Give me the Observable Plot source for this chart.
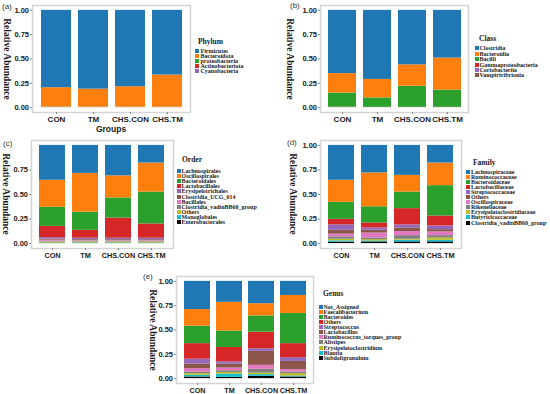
<!DOCTYPE html>
<html><head><meta charset="utf-8">
<script src="https://cdn.jsdelivr.net/npm/d3@7"></script>
<script src="https://cdn.jsdelivr.net/npm/@observablehq/plot@0.6"></script>
<style>
body{margin:0;background:#fff;}
#root{position:relative;width:550px;height:394px;overflow:hidden;background:#fff;}
.abs{position:absolute;white-space:nowrap;line-height:1;}
.ytitle{font:bold 9.5px "Liberation Serif","Times New Roman",serif;color:#1a1a1a;transform:translate(-50%,-50%) rotate(90deg);}
.tag{font:8px "Liberation Sans",Arial,sans-serif;color:#333;transform:translateY(-50%);}
.ltitle{font:bold 7.5px "Liberation Serif","Times New Roman",serif;color:#1a1a1a;transform:translateY(-50%);}
.litem{font:bold 6px "Liberation Serif","Times New Roman",serif;color:#1a1a1a;transform:translateY(-50%);}
.key{position:absolute;width:4px;height:4px;transform:translateY(-50%);}
.xtitle{font:bold 8.5px "Liberation Sans",Arial,sans-serif;color:#1a1a1a;transform:translate(-50%,-50%);}
</style>
</head><body><div id="root"></div>
<script>
const groups = ["CON", "TM", "CHS.CON", "CHS.TM"];
const palette = ["#1f77b4","#ff7f0e","#2ca02c","#d62728","#9467bd","#8c564b","#e377c2","#7f7f7f","#bcbd22","#17becf","#000000"];

// (a) Phylum — values per taxon for [CON, TM, CHS.CON, CHS.TM]
const phylum = ["Firmicutes","Bacteroidota","proteobacteria","Actinobacteriota","Cyanobacteria"];
const phylumValues = [
  [0.795, 0.810, 0.785, 0.665],
  [0.198, 0.185, 0.210, 0.330],
  [0.004, 0.003, 0.003, 0.003],
  [0.002, 0.001, 0.001, 0.001],
  [0.001, 0.001, 0.001, 0.001]
];

// (b) Class
const classes = ["Clostridia","Bacteroidia","Bacilli","Gammaproteobacteria","Coriobacteriia","Vampirivibrionia"];
const classValues = [
  [0.650, 0.710, 0.560, 0.490],
  [0.200, 0.190, 0.220, 0.330],
  [0.145, 0.097, 0.217, 0.177],
  [0.004, 0.002, 0.002, 0.002],
  [0.0007, 0.0007, 0.0007, 0.0007],
  [0.0003, 0.0003, 0.0003, 0.0003]
];

// (c) Order
const orders = ["Lachnospirales","Oscillospirales","Bacteroidales","Lactobacillales","Erysipelotrichales","Clostridia_UCG_014","Bacillales","Clostridia_vadinBB60_group","Others","Monoglobales","Enterobacterales"];
const orderValues = [
  [0.355, 0.285, 0.310, 0.180],
  [0.275, 0.395, 0.225, 0.295],
  [0.195, 0.185, 0.205, 0.325],
  [0.115, 0.080, 0.205, 0.145],
  [0.015, 0.015, 0.015, 0.016],
  [0.010, 0.008, 0.008, 0.008],
  [0.010, 0.006, 0.006, 0.006],
  [0.008, 0.008, 0.008, 0.008],
  [0.010, 0.010, 0.010, 0.010],
  [0.004, 0.005, 0.005, 0.004],
  [0.003, 0.003, 0.003, 0.003]
];

// (d) Family
const families = ["Lachnospiraceae","Ruminococcaceae","Bacteroidaceae","Lactobacillaceae","Streptococcaceae","Others","Oscillospiraceae","Rikenellaceae","Erysipelatoclostridiaceae","Butyricicoccaceae","Clostridia_vadinBB60_group"];
const familyValues = [
  [0.355, 0.280, 0.305, 0.180],
  [0.225, 0.345, 0.170, 0.230],
  [0.173, 0.165, 0.169, 0.309],
  [0.057, 0.050, 0.166, 0.101],
  [0.054, 0.024, 0.030, 0.038],
  [0.040, 0.028, 0.038, 0.023],
  [0.027, 0.050, 0.041, 0.038],
  [0.024, 0.018, 0.037, 0.023],
  [0.017, 0.013, 0.010, 0.024],
  [0.013, 0.010, 0.017, 0.017],
  [0.015, 0.017, 0.017, 0.017]
];

// (e) Genus
const genera = ["Not_Assigned","Faecalibacterium","Bacteroides","Others","Streptococcus","Lactobacillus","Ruminococcus_torques_group","Alistipes","Erysipelatoclostridium","Blautia","Subdoligranulum"];
const genusValues = [
  [0.290, 0.215, 0.230, 0.145],
  [0.170, 0.295, 0.125, 0.185],
  [0.180, 0.170, 0.167, 0.310],
  [0.160, 0.147, 0.171, 0.145],
  [0.050, 0.023, 0.027, 0.038],
  [0.048, 0.041, 0.143, 0.085],
  [0.034, 0.028, 0.041, 0.024],
  [0.017, 0.017, 0.038, 0.017],
  [0.017, 0.017, 0.017, 0.024],
  [0.017, 0.034, 0.017, 0.010],
  [0.017, 0.013, 0.024, 0.017]
];

const root = document.getElementById("root");
function addDiv(cls, text, x, y, extra) {
  const d = document.createElement("div");
  d.className = "abs " + cls;
  d.textContent = text;
  d.style.left = x + "px";
  d.style.top = y + "px";
  if (extra) Object.assign(d.style, extra);
  root.appendChild(d);
  return d;
}

function panel(cfg) {
  const {taxa, values, L, R, T, B, ticks} = cfg;
  const data = [];
  for (let i = taxa.length - 1; i >= 0; i--)
    for (let g = 0; g < groups.length; g++)
      data.push({group: groups[g], taxon: taxa[i], value: values[i][g]});
  const mL = 30, mR = 2, mT = 4, mB = 20;
  const chart = Plot.plot({
    width: (R - L) + mL + mR,
    height: (B - T) + mT + mB,
    marginLeft: mL, marginRight: mR, marginTop: mT, marginBottom: mB,
    style: {background: "transparent", overflow: "visible", color: "#1a1a1a"},
    x: {domain: groups, paddingInner: 0.2, paddingOuter: 0.2, label: null},
    y: {domain: [-0.05, 1.05], label: null},
    color: {domain: taxa, range: palette},
    marks: [
      Plot.barY(data, {x: "group", y: "value", fill: "taxon"}),
      Plot.frame({stroke: "#d4d4d4", strokeWidth: 1.5}),
      Plot.axisY({ticks, tickFormat: d3.format(".2f"), tickSize: 2, tickPadding: 1.5, stroke: "#888",
        fontSize: 7.5, fontWeight: "bold", fontFamily: "Liberation Sans, Arial, sans-serif", label: null}),
      Plot.axisX({tickSize: 2, tickPadding: 2, stroke: "#888",
        fontSize: cfg.xFont || 7.5, fontWeight: "bold", fontFamily: "Liberation Sans, Arial, sans-serif", label: null})
    ]
  });
  chart.style.position = "absolute";
  chart.style.left = (L - mL) + "px";
  chart.style.top = (T - mT) + "px";
  root.appendChild(chart);

  addDiv("ytitle", "Relative Abundance", cfg.yTitleX, (T + B) / 2);
  addDiv("tag", cfg.tag, cfg.tagX, cfg.tagY);
  const lg = cfg.legend;
  addDiv("ltitle", cfg.legendTitle, lg.titleX, lg.titleY);
  taxa.forEach((t, i) => {
    const y = lg.itemY + i * lg.step;
    const k = document.createElement("div");
    k.className = "key";
    k.style.left = lg.keyX + "px";
    k.style.top = y + "px";
    k.style.background = palette[i];
    root.appendChild(k);
    addDiv("litem", t, lg.textX, y);
  });
}

panel({taxa: phylum, values: phylumValues, L: 32, R: 190, T: 5, B: 112, ticks: [0, 0.25, 0.5, 0.75, 1],
  xFont: 8, yTitleX: 7, tag: "(a)", tagX: 2, tagY: 6, legendTitle: "Phylum",
  legend: {titleX: 198, titleY: 41, keyX: 195, textX: 200.5, itemY: 50.7, step: 5.1}});
addDiv("xtitle", "Groups", 111, 129);

panel({taxa: classes, values: classValues, L: 320, R: 468, T: 5, B: 112, ticks: [0, 0.25, 0.5, 0.75, 1],
  xFont: 8, yTitleX: 290, tag: "(b)", tagX: 290, tagY: 5, legendTitle: "Class",
  legend: {titleX: 479, titleY: 38, keyX: 474.5, textX: 479.5, itemY: 48.3, step: 5.4}});

panel({taxa: orders, values: orderValues, L: 31, R: 173, T: 140, B: 248, ticks: [0, 0.25, 0.5, 0.75],
  xFont: 7.3, yTitleX: 6, tag: "(c)", tagX: 3, tagY: 143, legendTitle: "Order",
  legend: {titleX: 182, titleY: 159, keyX: 176.5, textX: 181.5, itemY: 171, step: 5.1}});

panel({taxa: families, values: familyValues, L: 320, R: 461, T: 140, B: 248, ticks: [0, 0.25, 0.5, 0.75, 1],
  xFont: 7.3, yTitleX: 293, tag: "(d)", tagX: 287, tagY: 142, legendTitle: "Family",
  legend: {titleX: 473, titleY: 162, keyX: 466, textX: 471, itemY: 171.5, step: 5.1}});

panel({taxa: genera, values: genusValues, L: 176, R: 313, T: 276, B: 383, ticks: [0, 0.25, 0.5, 0.75, 1],
  xFont: 7.2, yTitleX: 153, tag: "(e)", tagX: 143, tagY: 276, legendTitle: "Genus",
  legend: {titleX: 323, titleY: 293, keyX: 318.5, textX: 323.5, itemY: 306.7, step: 5.1}});
</script>
</body></html>
